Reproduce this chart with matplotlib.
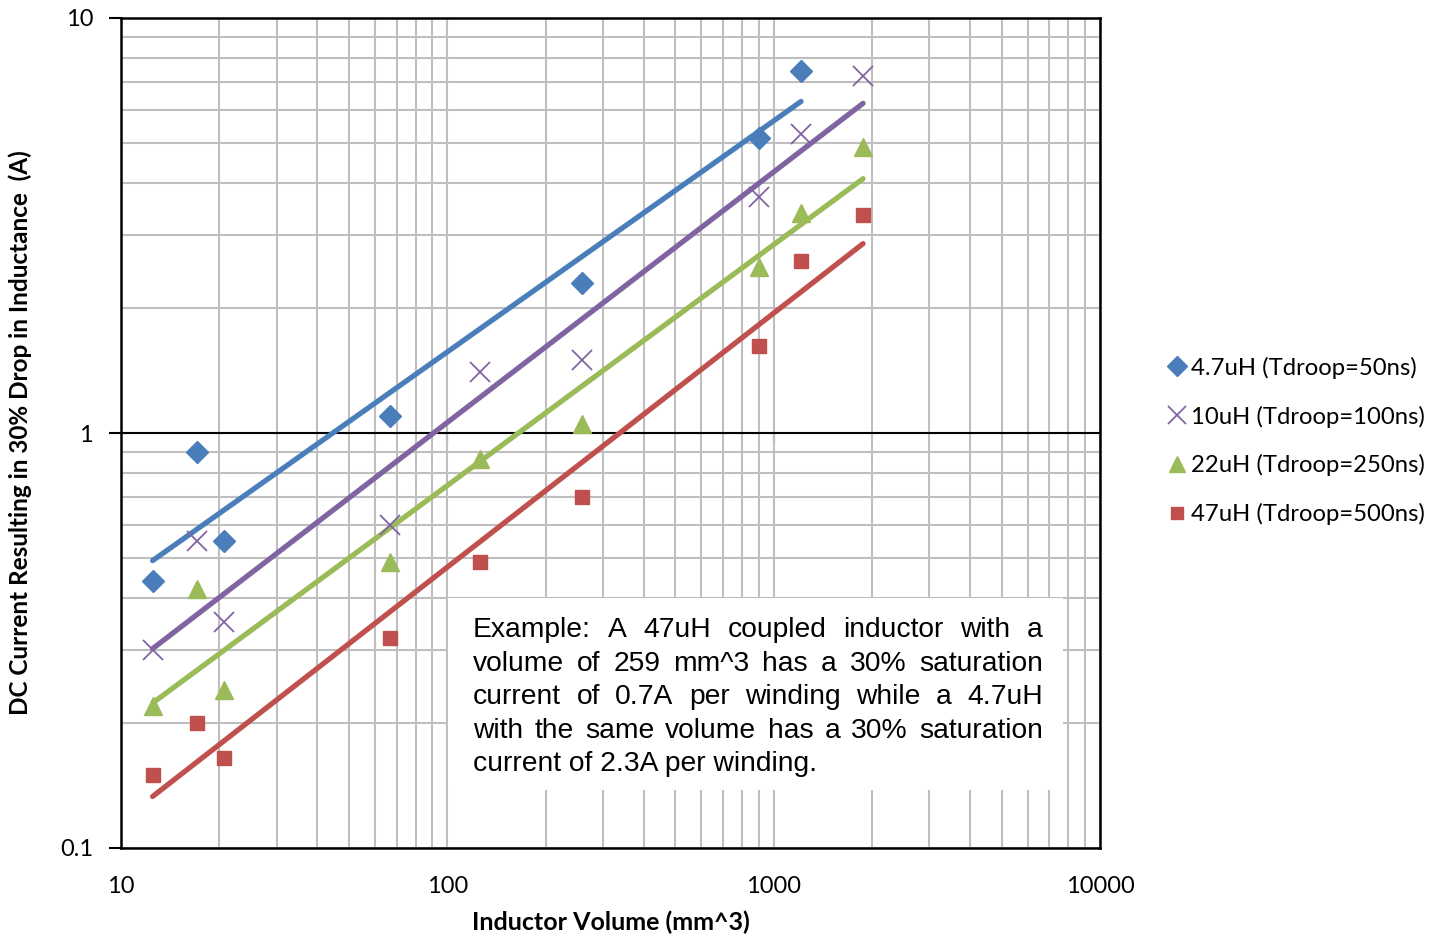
import numpy as np
import matplotlib
matplotlib.use("Agg")
import matplotlib.pyplot as plt
from matplotlib.transforms import IdentityTransform
from matplotlib.patches import Rectangle

# inductor volumes (mm^3)
vol_47 = [12.5, 17.1, 20.7, 66.7, 259, 902, 1213]
vol = [12.5, 17.1, 20.7, 66.7, 126, 259, 902, 1213, 1879]

# DC current at 30% inductance drop (A)
i_4u7 = [0.44, 0.90, 0.55, 1.10, 2.30, 5.14, 7.45]
i_10u = [0.30, 0.55, 0.35, 0.60, 1.40, 1.50, 3.71, 5.25, 7.25]
i_22u = [0.22, 0.42, 0.24, 0.49, 0.866, 1.05, 2.51, 3.39, 4.89]
i_47u = [0.15, 0.20, 0.165, 0.32, 0.49, 0.70, 1.62, 2.60, 3.35]

labels = ["4.7uH (Tdroop=50ns)", "10uH (Tdroop=100ns)",
          "22uH (Tdroop=250ns)", "47uH (Tdroop=500ns)"]

note_lines = [
    "Example: A 47uH coupled inductor with a",
    "volume of 259 mm^3 has a 30% saturation",
    "current of 0.7A per winding while a 4.7uH",
    "with the same volume has a 30% saturation",
    "current of 2.3A per winding.",
]

plt.rcParams['font.family'] = ['Lato', 'DejaVu Sans']

fig = plt.figure(figsize=(14.33, 9.36), dpi=100)
ax = fig.add_axes([121/1433, 1-848/936, 979/1433, 830/936])

series = [
    (vol_47, i_4u7, 'D', '#4a7ebb', 11, labels[0]),
    (vol, i_10u, 'x', '#8064a2', 14, labels[1]),
    (vol, i_22u, '^', '#9bbb59', 13, labels[2]),
    (vol, i_47u, 's', '#c0504d', 10, labels[3]),
]

handles = []
for xs, ys, m, c, ms, lab in series:
    xs = np.array(xs); ys = np.array(ys)
    # power trendline (fit in log-log space, like excel)
    k, b = np.polyfit(np.log10(xs), np.log10(ys), 1)
    xl = np.array([xs.min(), xs.max()])
    ax.plot(xl, 10**(k*np.log10(xl)+b), color=c, lw=3.8, solid_capstyle='round', zorder=3)
    if m == 'x':
        h, = ax.plot(xs, ys, ls='none', marker=m, color=c, ms=ms, mew=1.3, zorder=4, label=lab)
    else:
        h, = ax.plot(xs, ys, ls='none', marker=m, color=c, mec=c, ms=ms, zorder=4, label=lab)
    handles.append(h)

ax.set_xscale('log')
ax.set_yscale('log')
ax.set_xlim(10, 10000)
ax.set_ylim(0.1, 10)
ax.set_axisbelow(True)
ax.grid(True, which='both', color='#bfbfbf', lw=1.5)
ax.axhline(1, color='black', lw=1.5, zorder=2)

for s in ax.spines.values():
    s.set_linewidth(1.8)
    s.set_color('black')

ax.set_xticks([10, 100, 1000, 10000])
ax.set_xticklabels(['10', '100', '1000', '10000'])
ax.set_yticks([0.1, 1, 10])
ax.set_yticklabels(['0.1', '1', '10'])
ax.tick_params(axis='x', which='major', length=0, pad=20, labelsize=17)
ax.tick_params(axis='y', which='major', length=9, width=1.5, direction='out', pad=11, labelsize=17)
ax.tick_params(which='minor', length=0)
ax.xaxis.set_minor_formatter(plt.NullFormatter())
ax.yaxis.set_minor_formatter(plt.NullFormatter())

# ticks hanging from the y=1 axis line
sec = ax.secondary_xaxis(0.5)
sec.set_xticks([100, 1000])
sec.set_xticklabels(['', ''])
sec.tick_params(which='major', length=7, width=1.5, direction='in', color='black')
sec.tick_params(which='minor', length=0)
sec.xaxis.set_minor_formatter(plt.NullFormatter())
sec.spines['top'].set_visible(False)

ax.set_xlabel('Inductor Volume (mm^3)', fontsize=18, fontweight='bold', labelpad=10)
ax.set_ylabel('DC Current Resulting in 30% Drop in Inductance  (A)', fontsize=17.5,
              fontweight='bold', labelpad=20)

ax.add_patch(Rectangle((0.334, 0.0699), 0.628, 0.2313, transform=ax.transAxes,
                       facecolor='white', edgecolor='none', zorder=1))

fig.legend(handles=handles, loc='center left', bbox_to_anchor=(1158/1433, 1-441/936),
           frameon=False, fontsize=17.2, handlelength=0.75, handletextpad=0.25,
           labelspacing=1.12, borderaxespad=0, markerscale=0.9)

# justified note text
fig.canvas.draw()
r = fig.canvas.get_renderer()
x0, x1 = 473, 1043
for i, line in enumerate(note_lines):
    yd = 936 - (630 + i*33.6)
    kw = dict(transform=IdentityTransform(), va='center', ha='left', fontsize=20.3,
              family=['Liberation Sans', 'DejaVu Sans'], zorder=5)
    if i == len(note_lines) - 1:
        fig.text(x0, yd, line, **kw)
        continue
    words = line.split()
    ts = [fig.text(0, yd, w, **kw) for w in words]
    ws = [t.get_window_extent(r).width for t in ts]
    gap = (x1 - x0 - sum(ws)) / (len(words) - 1)
    x = x0
    for t, w in zip(ts, ws):
        t.set_x(x)
        x += w + gap

fig.savefig('out.png', dpi=100)
